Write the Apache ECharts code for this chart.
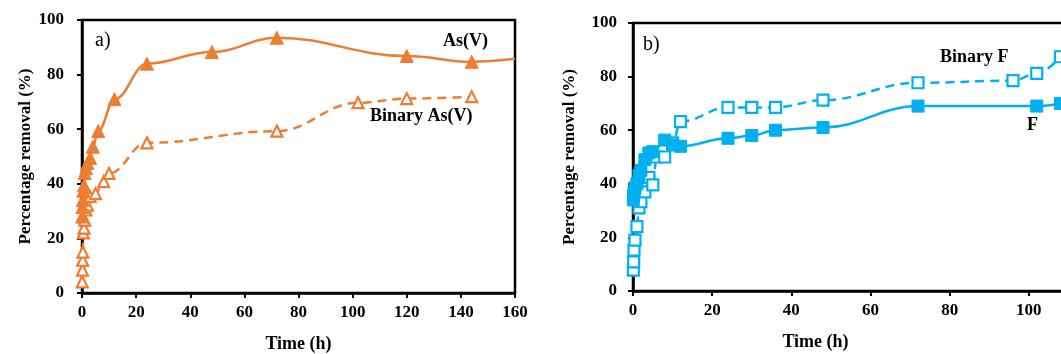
<!DOCTYPE html>
<html>
<head>
<meta charset="utf-8">
<script src="https://cdn.jsdelivr.net/npm/echarts@6/dist/echarts.min.js"></script>
<style>
  html, body { margin: 0; padding: 0; background: #ffffff; }
  #chart { width: 1061px; height: 354px; }
</style>
</head>
<body>
<div id="chart"></div>
<script>
// panel a) arsenate
const asTime = [0.08, 0.17, 0.25, 0.5, 0.75, 1, 1.5, 2, 3, 4, 6, 12, 24, 48, 72, 120, 144];
const asValue = [28, 31.5, 34, 37.5, 39.5, 44, 45.7, 47.6, 49.5, 53.6, 59.3, 71, 84, 88.3, 93.5, 86.8, 84.7];
const asTrendEnd = [160, 85.8];
const binaryAsTime = [0.08, 0.17, 0.25, 0.33, 0.5, 0.75, 1, 1.5, 2, 3, 5, 8, 10, 24, 72, 102, 120, 144];
const binaryAsValue = [4.1, 8.4, 12, 15, 22, 23.8, 26.7, 30.4, 32.2, 35.3, 36.4, 40.8, 43.8, 55, 59.3, 69.7, 71.2, 71.9];

// panel b) fluoride
const fTime = [0.08, 0.17, 0.25, 0.5, 1, 1.5, 2, 3, 4, 5, 8, 10, 12, 24, 30, 36, 48, 72, 102, 108];
const fValue = [34, 35.5, 37, 38.5, 40, 43, 45, 49, 51.5, 52, 56.3, 54.5, 54, 57, 58, 60, 61, 69, 69, 70];
const binaryFTime = [0.08, 0.17, 0.25, 0.5, 1, 1.5, 2, 3, 4, 5, 6, 8, 10, 12, 24, 30, 36, 48, 72, 96, 102, 108];
const binaryFValue = [7.8, 10.9, 15.3, 19, 24, 31, 33.3, 37, 42.4, 39.6, 50, 50, 55.3, 63.2, 68.5, 68.5, 68.5, 71.2, 77.7, 78.5, 81.2, 87.4];

const pctTicks = [0, 20, 40, 60, 80, 100];

const ORANGE = "#ED7D31";
const BLUE = "#00B0F0";
const FONT = "'Liberation Serif', 'DejaVu Serif', serif";

const pairs = (xs, ys) => xs.map((x, i) => [x, ys[i]]);

function timeAxis(gridIndex, max, namePadding) {
  return {
    type: "value",
    gridIndex,
    min: 0,
    max,
    interval: 20,
    name: "Time (h)",
    nameLocation: "middle",
    nameGap: 42,
    nameTextStyle: { color: "#000", fontFamily: FONT, fontWeight: "bold", fontSize: 18, padding: namePadding },
    axisLine: { onZero: false, lineStyle: { color: "#000", width: 2.5 } },
    axisTick: { inside: false, length: 5, lineStyle: { color: "#000", width: 2 } },
    axisLabel: { color: "#000", fontFamily: FONT, fontWeight: "bold", fontSize: 17, margin: 11 },
    splitLine: { show: false },
  };
}

function pctAxis(gridIndex, nameGap, margin) {
  return {
    type: "value",
    gridIndex,
    min: 0,
    max: 100,
    interval: 20,
    name: "Percentage removal (%)",
    nameLocation: "middle",
    nameGap,
    nameTextStyle: { color: "#000", fontFamily: FONT, fontWeight: "bold", fontSize: 17 },
    axisLine: { show: true, lineStyle: { color: "#000", width: 2.5 } },
    axisTick: { show: true, inside: false, length: 5, lineStyle: { color: "#000", width: 2 } },
    axisLabel: {
      color: "#000", fontFamily: FONT, fontWeight: "bold", fontSize: 17, margin,
      formatter: (v) => (pctTicks.includes(v) ? String(v) : ""),
    },
    splitLine: { show: false },
  };
}

function lineSeries(name, data, color, axisIndex, opts) {
  const hollow = opts.hollow;
  return {
    name,
    type: "line",
    xAxisIndex: axisIndex,
    yAxisIndex: axisIndex,
    data,
    smooth: 0.4,
    smoothMonotone: "x",
    symbol: opts.symbol,
    symbolSize: opts.size,
    showAllSymbol: true,
    lineStyle: { color, width: 2.5, type: hollow ? [9, 6] : "solid" },
    itemStyle: hollow
      ? { color: "#ffffff", borderColor: color, borderWidth: 2.2 }
      : { color, borderColor: color, borderWidth: 1 },
    z: hollow ? 3 : 4,
  };
}

const chart = echarts.init(document.getElementById("chart"), null, { renderer: "canvas" });

chart.setOption({
  animation: false,
  backgroundColor: "#ffffff",
  textStyle: { fontFamily: FONT },
  grid: [
    { left: 82, top: 20, width: 433, height: 273, outerBoundsMode: "none", containLabel: false, show: true, borderColor: "#000", borderWidth: 2.5, backgroundColor: "transparent" },
    { left: 633, top: 23, width: 475, height: 268, outerBoundsMode: "none", containLabel: false, show: true, borderColor: "#000", borderWidth: 2.5, backgroundColor: "transparent" },
  ],
  xAxis: [
    timeAxis(0, 160, [0, 0, 0, 0]),
    timeAxis(1, 120, [0, 110, 0, 0]),
  ],
  yAxis: [pctAxis(0, 46, 18), pctAxis(1, 55, 16)],
  series: [
    lineSeries("As(V)", pairs(asTime, asValue).concat([{ value: asTrendEnd, symbol: "none" }]), ORANGE, 0, { symbol: "triangle", size: 13 }),
    lineSeries("Binary As(V)", pairs(binaryAsTime, binaryAsValue), ORANGE, 0, { symbol: "triangle", size: 11, hollow: true }),
    lineSeries("F", pairs(fTime, fValue), BLUE, 1, { symbol: "rect", size: 12 }),
    lineSeries("Binary F", pairs(binaryFTime, binaryFValue), BLUE, 1, { symbol: "rect", size: 11, hollow: true }),
  ],
  graphic: [
    { type: "text", left: 95, top: 31, style: { text: "a)", font: "20px " + FONT, fill: "#000" } },
    { type: "text", left: 643, top: 35, style: { text: "b)", font: "20px " + FONT, fill: "#000" } },
    { type: "text", left: 443, top: 32, style: { text: "As(V)", font: "bold 18px " + FONT, fill: "#000" } },
    { type: "text", left: 370, top: 107, style: { text: "Binary As(V)", font: "bold 18px " + FONT, fill: "#000" } },
    { type: "text", left: 940, top: 48, style: { text: "Binary F", font: "bold 18px " + FONT, fill: "#000" } },
    { type: "text", left: 1027, top: 116, style: { text: "F", font: "bold 18px " + FONT, fill: "#000" } },
  ],
});
</script>
</body>
</html>
